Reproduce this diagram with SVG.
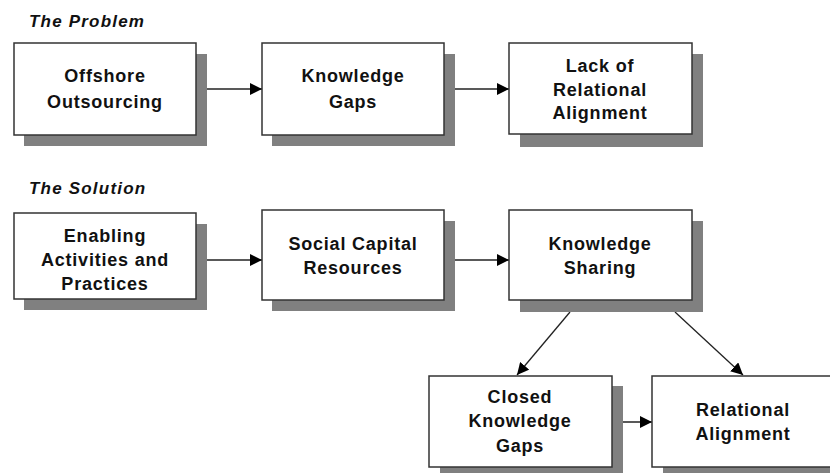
<svg xmlns="http://www.w3.org/2000/svg" width="830" height="474" viewBox="0 0 830 474">
<style>
.sh{fill:#808080}
.bx{fill:#fff;stroke:#333;stroke-width:1.5}
.t{font-family:"Liberation Sans",Arial,sans-serif;font-weight:bold;font-size:18px;letter-spacing:0.8px;fill:#111;text-anchor:middle}
.h{font-family:"Liberation Sans",Arial,sans-serif;font-weight:bold;font-style:italic;font-size:17px;letter-spacing:1.2px;fill:#111}
.c{stroke:#222;stroke-width:1.3;fill:none;marker-end:url(#ah)}
</style>
<defs>
<marker id="ah" viewBox="0 0 12 12" refX="12" refY="6" markerWidth="12" markerHeight="12" markerUnits="userSpaceOnUse" orient="auto">
<path d="M0,0 L12,6 L0,12 z" fill="#000"/>
</marker>
</defs>
<rect width="830" height="474" fill="#fff"/>
<text class="h" x="29" y="27">The Problem</text>
<text class="h" x="29" y="194">The Solution</text>
<g id="connectors">
<line class="c" x1="207" y1="89" x2="262" y2="89"/>
<line class="c" x1="455" y1="89" x2="509" y2="89"/>
<line class="c" x1="207" y1="260" x2="262" y2="260"/>
<line class="c" x1="455" y1="260" x2="509" y2="260"/>
<line class="c" x1="570" y1="312" x2="517" y2="375"/>
<line class="c" x1="675" y1="312" x2="743" y2="375"/>
<line class="c" x1="612" y1="422" x2="652" y2="422"/>
</g>
<g id="offshore">
<rect class="sh" x="24" y="54" width="183" height="92"/>
<rect class="bx" x="14" y="43" width="182" height="92"/>
<text class="t" x="105" y="82">Offshore</text>
<text class="t" x="105" y="108">Outsourcing</text>
</g>
<g id="knowledge-gaps">
<rect class="sh" x="272" y="54" width="183" height="92"/>
<rect class="bx" x="262" y="43" width="182" height="92"/>
<text class="t" x="353" y="82">Knowledge</text>
<text class="t" x="353" y="108">Gaps</text>
</g>
<g id="lack-alignment">
<rect class="sh" x="520" y="54" width="183" height="93"/>
<rect class="bx" x="509" y="43" width="183" height="91"/>
<text class="t" x="600" y="72">Lack of</text>
<text class="t" x="600" y="96">Relational</text>
<text class="t" x="600" y="119">Alignment</text>
</g>
<g id="enabling">
<rect class="sh" x="24" y="224" width="183" height="86"/>
<rect class="bx" x="14" y="213" width="182" height="86"/>
<text class="t" x="105" y="242">Enabling</text>
<text class="t" x="105" y="266">Activities and</text>
<text class="t" x="105" y="290">Practices</text>
</g>
<g id="social-capital">
<rect class="sh" x="272" y="221" width="183" height="90"/>
<rect class="bx" x="262" y="210" width="182" height="90"/>
<text class="t" x="353" y="250">Social Capital</text>
<text class="t" x="353" y="274">Resources</text>
</g>
<g id="knowledge-sharing">
<rect class="sh" x="520" y="221" width="183" height="91"/>
<rect class="bx" x="509" y="210" width="183" height="90"/>
<text class="t" x="600" y="250">Knowledge</text>
<text class="t" x="600" y="274">Sharing</text>
</g>
<g id="closed-gaps">
<rect class="sh" x="440" y="386" width="183" height="87"/>
<rect class="bx" x="429" y="376" width="183" height="91"/>
<text class="t" x="520" y="403">Closed</text>
<text class="t" x="520" y="427">Knowledge</text>
<text class="t" x="520" y="452">Gaps</text>
</g>
<g id="relational-alignment">
<rect class="sh" x="663" y="386" width="183" height="87"/>
<rect class="bx" x="652" y="376" width="183" height="91"/>
<text class="t" x="743" y="416">Relational</text>
<text class="t" x="743" y="440">Alignment</text>
</g>
</svg>
